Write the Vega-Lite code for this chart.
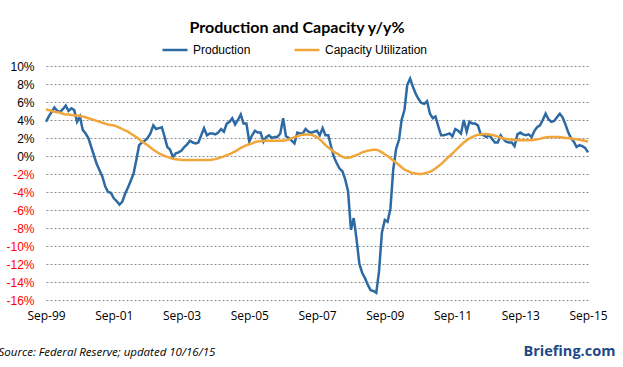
{
  "$schema": "https://vega.github.io/schema/vega-lite/v6.json",
  "width": 542,
  "height": 234,
  "autosize": {"type": "none"},
  "padding": {"left": 46, "top": 66, "right": 35, "bottom": 67},
  "background": "white",
  "config": {"view": {"stroke": null}},
  "title": {"text": "Production and Capacity y/y%", "font": "Lato", "fontWeight": "bold", "fontSize": 16, "color": "#000000", "anchor": "middle", "dx": -20, "offset": 0},
  "data": {"values": [
{"date":"1999-09-01","production":3.8,"capacity":5.2},
{"date":"1999-10-01","production":4.4,"capacity":5.1},
{"date":"1999-11-01","production":4.9,"capacity":5.0},
{"date":"1999-12-01","production":5.4,"capacity":4.9},
{"date":"2000-01-01","production":5.0,"capacity":4.85},
{"date":"2000-02-01","production":4.9,"capacity":4.8},
{"date":"2000-03-01","production":5.2,"capacity":4.7},
{"date":"2000-04-01","production":5.6,"capacity":4.6},
{"date":"2000-05-01","production":5.0,"capacity":4.6},
{"date":"2000-06-01","production":5.3,"capacity":4.55},
{"date":"2000-07-01","production":5.1,"capacity":4.5},
{"date":"2000-08-01","production":3.8,"capacity":4.5},
{"date":"2000-09-01","production":4.4,"capacity":4.45},
{"date":"2000-10-01","production":2.9,"capacity":4.4},
{"date":"2000-11-01","production":2.5,"capacity":4.3},
{"date":"2000-12-01","production":2.0,"capacity":4.2},
{"date":"2001-01-01","production":1.0,"capacity":4.1},
{"date":"2001-02-01","production":0.0,"capacity":4.0},
{"date":"2001-03-01","production":-0.9,"capacity":3.9},
{"date":"2001-04-01","production":-1.6,"capacity":3.8},
{"date":"2001-05-01","production":-2.3,"capacity":3.7},
{"date":"2001-06-01","production":-3.4,"capacity":3.6},
{"date":"2001-07-01","production":-4.0,"capacity":3.5},
{"date":"2001-08-01","production":-4.1,"capacity":3.45},
{"date":"2001-09-01","production":-4.7,"capacity":3.4},
{"date":"2001-10-01","production":-5.0,"capacity":3.3},
{"date":"2001-11-01","production":-5.4,"capacity":3.15},
{"date":"2001-12-01","production":-5.1,"capacity":3.0},
{"date":"2002-01-01","production":-4.2,"capacity":2.85},
{"date":"2002-02-01","production":-3.5,"capacity":2.7},
{"date":"2002-03-01","production":-2.8,"capacity":2.5},
{"date":"2002-04-01","production":-2.0,"capacity":2.3},
{"date":"2002-05-01","production":-0.5,"capacity":2.1},
{"date":"2002-06-01","production":1.2,"capacity":1.85},
{"date":"2002-07-01","production":1.5,"capacity":1.6},
{"date":"2002-08-01","production":1.7,"capacity":1.4},
{"date":"2002-09-01","production":2.0,"capacity":1.2},
{"date":"2002-10-01","production":2.5,"capacity":0.95},
{"date":"2002-11-01","production":3.4,"capacity":0.7},
{"date":"2002-12-01","production":3.0,"capacity":0.5},
{"date":"2003-01-01","production":3.1,"capacity":0.3},
{"date":"2003-02-01","production":3.2,"capacity":0.15},
{"date":"2003-03-01","production":2.2,"capacity":0.0},
{"date":"2003-04-01","production":1.0,"capacity":-0.1},
{"date":"2003-05-01","production":0.7,"capacity":-0.2},
{"date":"2003-06-01","production":-0.1,"capacity":-0.3},
{"date":"2003-07-01","production":0.3,"capacity":-0.35},
{"date":"2003-08-01","production":0.4,"capacity":-0.4},
{"date":"2003-09-01","production":0.6,"capacity":-0.45},
{"date":"2003-10-01","production":1.0,"capacity":-0.45},
{"date":"2003-11-01","production":1.3,"capacity":-0.45},
{"date":"2003-12-01","production":1.7,"capacity":-0.45},
{"date":"2004-01-01","production":1.5,"capacity":-0.45},
{"date":"2004-02-01","production":1.4,"capacity":-0.45},
{"date":"2004-03-01","production":1.5,"capacity":-0.45},
{"date":"2004-04-01","production":2.3,"capacity":-0.45},
{"date":"2004-05-01","production":3.1,"capacity":-0.45},
{"date":"2004-06-01","production":2.3,"capacity":-0.45},
{"date":"2004-07-01","production":2.5,"capacity":-0.45},
{"date":"2004-08-01","production":2.5,"capacity":-0.4},
{"date":"2004-09-01","production":2.4,"capacity":-0.35},
{"date":"2004-10-01","production":2.6,"capacity":-0.25},
{"date":"2004-11-01","production":3.0,"capacity":-0.15},
{"date":"2004-12-01","production":2.7,"capacity":-0.05},
{"date":"2005-01-01","production":3.6,"capacity":0.1},
{"date":"2005-02-01","production":3.8,"capacity":0.2},
{"date":"2005-03-01","production":4.2,"capacity":0.35},
{"date":"2005-04-01","production":3.5,"capacity":0.5},
{"date":"2005-05-01","production":4.0,"capacity":0.7},
{"date":"2005-06-01","production":4.6,"capacity":0.9},
{"date":"2005-07-01","production":3.6,"capacity":1.05},
{"date":"2005-08-01","production":3.6,"capacity":1.2},
{"date":"2005-09-01","production":1.6,"capacity":1.3},
{"date":"2005-10-01","production":2.3,"capacity":1.4},
{"date":"2005-11-01","production":2.8,"capacity":1.55},
{"date":"2005-12-01","production":2.6,"capacity":1.6},
{"date":"2006-01-01","production":2.6,"capacity":1.65},
{"date":"2006-02-01","production":1.6,"capacity":1.7},
{"date":"2006-03-01","production":2.1,"capacity":1.7},
{"date":"2006-04-01","production":2.3,"capacity":1.7},
{"date":"2006-05-01","production":2.0,"capacity":1.7},
{"date":"2006-06-01","production":2.1,"capacity":1.7},
{"date":"2006-07-01","production":2.1,"capacity":1.7},
{"date":"2006-08-01","production":2.5,"capacity":1.7},
{"date":"2006-09-01","production":4.2,"capacity":1.7},
{"date":"2006-10-01","production":2.2,"capacity":1.75},
{"date":"2006-11-01","production":2.0,"capacity":1.85},
{"date":"2006-12-01","production":1.7,"capacity":1.95},
{"date":"2007-01-01","production":1.4,"capacity":2.1},
{"date":"2007-02-01","production":2.6,"capacity":2.2},
{"date":"2007-03-01","production":2.5,"capacity":2.3},
{"date":"2007-04-01","production":2.5,"capacity":2.35},
{"date":"2007-05-01","production":3.0,"capacity":2.4},
{"date":"2007-06-01","production":2.7,"capacity":2.4},
{"date":"2007-07-01","production":2.6,"capacity":2.35},
{"date":"2007-08-01","production":2.7,"capacity":2.25},
{"date":"2007-09-01","production":2.8,"capacity":2.1},
{"date":"2007-10-01","production":2.3,"capacity":1.85},
{"date":"2007-11-01","production":3.1,"capacity":1.55},
{"date":"2007-12-01","production":2.3,"capacity":1.2},
{"date":"2008-01-01","production":2.3,"capacity":0.95},
{"date":"2008-02-01","production":1.0,"capacity":0.7},
{"date":"2008-03-01","production":-0.1,"capacity":0.45},
{"date":"2008-04-01","production":-0.8,"capacity":0.3},
{"date":"2008-05-01","production":-1.4,"capacity":0.1},
{"date":"2008-06-01","production":-1.7,"capacity":-0.1},
{"date":"2008-07-01","production":-2.6,"capacity":-0.2},
{"date":"2008-08-01","production":-3.9,"capacity":-0.2},
{"date":"2008-09-01","production":-8.2,"capacity":-0.15},
{"date":"2008-10-01","production":-6.9,"capacity":0.0},
{"date":"2008-11-01","production":-9.3,"capacity":0.1},
{"date":"2008-12-01","production":-12.0,"capacity":0.25},
{"date":"2009-01-01","production":-13.0,"capacity":0.4},
{"date":"2009-02-01","production":-13.6,"capacity":0.5},
{"date":"2009-03-01","production":-14.3,"capacity":0.6},
{"date":"2009-04-01","production":-14.9,"capacity":0.65},
{"date":"2009-05-01","production":-15.0,"capacity":0.7},
{"date":"2009-06-01","production":-15.2,"capacity":0.7},
{"date":"2009-07-01","production":-12.8,"capacity":0.6},
{"date":"2009-08-01","production":-8.5,"capacity":0.4},
{"date":"2009-09-01","production":-7.1,"capacity":0.2},
{"date":"2009-10-01","production":-7.3,"capacity":0.0},
{"date":"2009-11-01","production":-5.8,"capacity":-0.25},
{"date":"2009-12-01","production":-1.5,"capacity":-0.5},
{"date":"2010-01-01","production":0.8,"capacity":-0.75},
{"date":"2010-02-01","production":1.8,"capacity":-1.0},
{"date":"2010-03-01","production":4.0,"capacity":-1.25},
{"date":"2010-04-01","production":5.1,"capacity":-1.5},
{"date":"2010-05-01","production":7.9,"capacity":-1.65},
{"date":"2010-06-01","production":8.6,"capacity":-1.8},
{"date":"2010-07-01","production":7.7,"capacity":-1.9},
{"date":"2010-08-01","production":6.9,"capacity":-1.95},
{"date":"2010-09-01","production":6.3,"capacity":-2.0},
{"date":"2010-10-01","production":5.9,"capacity":-2.0},
{"date":"2010-11-01","production":5.8,"capacity":-1.95},
{"date":"2010-12-01","production":6.1,"capacity":-1.85},
{"date":"2011-01-01","production":4.7,"capacity":-1.75},
{"date":"2011-02-01","production":4.2,"capacity":-1.6},
{"date":"2011-03-01","production":4.4,"capacity":-1.4},
{"date":"2011-04-01","production":3.3,"capacity":-1.15},
{"date":"2011-05-01","production":2.3,"capacity":-0.9},
{"date":"2011-06-01","production":2.3,"capacity":-0.6},
{"date":"2011-07-01","production":2.4,"capacity":-0.3},
{"date":"2011-08-01","production":2.5,"capacity":0.0},
{"date":"2011-09-01","production":2.2,"capacity":0.3},
{"date":"2011-10-01","production":3.0,"capacity":0.6},
{"date":"2011-11-01","production":2.8,"capacity":0.9},
{"date":"2011-12-01","production":2.5,"capacity":1.2},
{"date":"2012-01-01","production":4.0,"capacity":1.5},
{"date":"2012-02-01","production":2.7,"capacity":1.75},
{"date":"2012-03-01","production":3.8,"capacity":1.95},
{"date":"2012-04-01","production":3.6,"capacity":2.1},
{"date":"2012-05-01","production":3.6,"capacity":2.25},
{"date":"2012-06-01","production":3.4,"capacity":2.35},
{"date":"2012-07-01","production":2.4,"capacity":2.4},
{"date":"2012-08-01","production":2.3,"capacity":2.45},
{"date":"2012-09-01","production":2.1,"capacity":2.45},
{"date":"2012-10-01","production":2.3,"capacity":2.4},
{"date":"2012-11-01","production":1.9,"capacity":2.35},
{"date":"2012-12-01","production":1.5,"capacity":2.25},
{"date":"2013-01-01","production":1.5,"capacity":2.15},
{"date":"2013-02-01","production":2.3,"capacity":2.05},
{"date":"2013-03-01","production":1.9,"capacity":1.95},
{"date":"2013-04-01","production":1.6,"capacity":1.9},
{"date":"2013-05-01","production":1.5,"capacity":1.85},
{"date":"2013-06-01","production":1.5,"capacity":1.8},
{"date":"2013-07-01","production":1.1,"capacity":1.8},
{"date":"2013-08-01","production":2.4,"capacity":1.75},
{"date":"2013-09-01","production":2.6,"capacity":1.75},
{"date":"2013-10-01","production":2.4,"capacity":1.75},
{"date":"2013-11-01","production":2.3,"capacity":1.75},
{"date":"2013-12-01","production":2.4,"capacity":1.75},
{"date":"2014-01-01","production":2.1,"capacity":1.75},
{"date":"2014-02-01","production":2.8,"capacity":1.8},
{"date":"2014-03-01","production":3.2,"capacity":1.85},
{"date":"2014-04-01","production":3.4,"capacity":1.9},
{"date":"2014-05-01","production":4.0,"capacity":2.0},
{"date":"2014-06-01","production":4.7,"capacity":2.05},
{"date":"2014-07-01","production":4.1,"capacity":2.1},
{"date":"2014-08-01","production":3.8,"capacity":2.1},
{"date":"2014-09-01","production":3.9,"capacity":2.1},
{"date":"2014-10-01","production":4.3,"capacity":2.1},
{"date":"2014-11-01","production":4.7,"capacity":2.1},
{"date":"2014-12-01","production":4.3,"capacity":2.05},
{"date":"2015-01-01","production":3.5,"capacity":2.0},
{"date":"2015-02-01","production":2.6,"capacity":2.0},
{"date":"2015-03-01","production":2.0,"capacity":1.95},
{"date":"2015-04-01","production":1.6,"capacity":1.9},
{"date":"2015-05-01","production":1.0,"capacity":1.85},
{"date":"2015-06-01","production":1.2,"capacity":1.8},
{"date":"2015-07-01","production":1.1,"capacity":1.75},
{"date":"2015-08-01","production":0.9,"capacity":1.7},
{"date":"2015-09-01","production":0.4,"capacity":1.6}
  ]},
  "encoding": {
    "x": {
      "field": "date", "type": "temporal",
      "scale": {"type": "utc", "domain": [{"year": 1999, "month": 9, "date": 1, "utc": true}, {"year": 2015, "month": 9, "date": 1, "utc": true}]},
      "axis": {
        "values": [
          {"year": 1999, "month": 9, "date": 1, "utc": true},
          {"year": 2001, "month": 9, "date": 1, "utc": true},
          {"year": 2003, "month": 9, "date": 1, "utc": true},
          {"year": 2005, "month": 9, "date": 1, "utc": true},
          {"year": 2007, "month": 9, "date": 1, "utc": true},
          {"year": 2009, "month": 9, "date": 1, "utc": true},
          {"year": 2011, "month": 9, "date": 1, "utc": true},
          {"year": 2013, "month": 9, "date": 1, "utc": true},
          {"year": 2015, "month": 9, "date": 1, "utc": true}
        ],
        "labelExpr": "utcFormat(datum.value, '%b-%y')",
        "grid": false, "ticks": false, "domain": false,
        "labelFont": "Open Sans", "labelFontSize": 12, "labelColor": "#000000", "labelPadding": 10,
        "labelOverlap": false, "labelFlush": false,
        "title": "Source: Federal Reserve; updated 10/16/15",
        "titleFont": "Open Sans", "titleFontStyle": "italic", "titleFontWeight": "normal", "titleFontSize": 11.5,
        "titleColor": "#000000", "titleX": -48, "titleY": 52, "titleAlign": "left", "titleBaseline": "middle", "titleAnchor": null
      }
    },
    "y": {
      "type": "quantitative",
      "scale": {"domain": [-16, 10], "nice": false, "zero": false},
      "axis": {
        "values": [-16, -14, -12, -10, -8, -6, -4, -2, 0, 2, 4, 6, 8, 10],
        "labelExpr": "datum.value + '%'",
        "labelFont": "Liberation Sans", "labelFontSize": 12,
        "labelColor": {"condition": {"test": "datum.value < 0", "value": "#ff0000"}, "value": "#000000"},
        "labelPadding": 12, "ticks": false, "domain": false,
        "gridColor": "#8c8c8c", "gridDash": [2, 2], "gridWidth": 1,
        "title": "Briefing.com", "titleAngle": 0, "titleX": 477, "titleY": 285,
        "titleAlign": "left", "titleBaseline": "middle",
        "titleFont": "Open Sans", "titleFontWeight": "bold", "titleFontSize": 14.5, "titleColor": "#1d4a87"
      }
    }
  },
  "layer": [
    {
      "mark": {"type": "line", "strokeWidth": 2.5, "interpolate": "linear"},
      "encoding": {
        "y": {"field": "production", "type": "quantitative"},
        "color": {"datum": "Production", "type": "nominal",
          "scale": {"domain": ["Production", "Capacity Utilization"], "range": ["#2d6aa3", "#f0a63a"]},
          "legend": {"orient": "none", "legendX": 115, "legendY": -30, "direction": "horizontal", "title": null,
            "symbolType": "stroke", "symbolSize": 625, "symbolStrokeWidth": 2.5,
            "labelFont": "Liberation Sans", "labelFontSize": 12, "labelColor": "#000000", "labelOffset": 4,
            "columnPadding": 38}
        }
      }
    },
    {
      "mark": {"type": "line", "strokeWidth": 2.5, "interpolate": "linear"},
      "encoding": {
        "y": {"field": "capacity", "type": "quantitative"},
        "color": {"datum": "Capacity Utilization", "type": "nominal"}
      }
    }
  ]
}
